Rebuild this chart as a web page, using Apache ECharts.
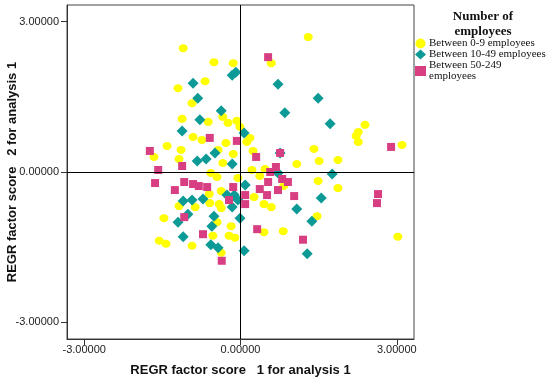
<!DOCTYPE html>
<html>
<head>
<meta charset="utf-8">
<script src="https://cdn.jsdelivr.net/npm/echarts@6/dist/echarts.min.js"></script>
<style>html,body{margin:0;padding:0;background:#fff}#c{width:550px;height:378px}</style>
</head>
<body>
<div id="c"></div>
<script>
// Series names
const seriesNames = ['Between 0-9 employees', 'Between 10-49 employees', 'Between 50-249 employees'];
const xAxisTitle = 'REGR factor score   1 for analysis 1';
const yAxisTitle = 'REGR factor score   2 for analysis 1';
const legendTitle = 'Number of\nemployees';
const tickValues = [-3, 0, 3];

// Between 0-9 employees
const micro = [
  [-1.10,2.47],[-0.51,2.19],[-0.14,2.17],[1.30,2.69],[0.59,2.17],[-0.68,1.81],[-1.20,1.67],
  [-0.93,1.37],[-0.34,1.10],[-0.07,1.02],[-0.01,0.90],[-1.12,1.06],[-0.62,1.00],[-0.24,0.98],
  [-0.91,0.70],[-0.74,0.64],[-0.28,0.58],[-1.41,0.52],[-1.14,0.44],[-1.66,0.30],[-1.18,0.26],
  [-0.14,0.36],[-0.34,0.18],[-0.43,0.44],[0.18,0.68],[0.12,0.60],[0.24,0.42],[0.22,0.04],
  [0.47,0.06],[-0.05,-0.12],[-0.57,-0.02],[-0.45,-0.10],[0.37,-0.08],[1.08,0.16],[1.41,0.46],
  [1.51,0.22],[1.87,0.24],[2.39,0.94],[2.26,0.80],[2.22,0.72],[2.26,0.60],[3.10,0.54],
  [1.49,-0.18],[1.87,-0.32],[0.83,-0.28],[0.26,-0.50],[0.45,-0.64],[0.59,-0.70],[1.47,-0.88],
  [0.45,-1.20],[0.82,-1.18],[3.02,-1.29],[-0.37,-0.38],[-0.60,-0.44],[-0.59,-0.62],[-0.41,-0.64],
  [-0.37,-0.72],[-1.18,-0.68],[-0.87,-0.70],[-1.47,-0.92],[-0.45,-1.00],[-0.18,-1.08],
  [-0.53,-1.27],[-0.22,-1.27],[-0.11,-1.31],[-1.56,-1.37],[-1.43,-1.43],[-0.93,-1.47],[-0.37,-1.61]
];
// Between 10-49 employees
const small = [
  [-0.16,1.93],[-0.09,1.99],[-0.91,1.77],[0.72,1.75],[-0.82,1.47],[1.49,1.47],[-0.37,1.22],
  [0.85,1.18],[-0.78,1.04],[1.72,0.96],[-1.12,0.82],[0.07,0.78],[-0.49,0.38],[-0.66,0.26],
  [-0.83,0.22],[-0.16,0.16],[0.76,0.38],[0.72,-0.02],[1.76,-0.04],[0.09,-0.26],[-0.26,-0.46],
  [-0.12,-0.46],[-0.05,-0.56],[-1.10,-0.58],[-0.93,-0.56],[-0.72,-0.54],[-0.16,-0.70],
  [-1.01,-0.84],[-1.20,-1.00],[-0.51,-0.88],[-0.55,-1.08],[-0.01,-0.92],[1.55,-0.52],
  [1.08,-0.74],[1.37,-0.98],[-1.10,-1.29],[-0.57,-1.45],[-0.43,-1.51],[0.07,-1.57],[1.28,-1.63]
];
// Between 50-249 employees
const medium = [
  [0.53,2.29],[-0.59,0.68],[-0.07,0.62],[-1.74,0.42],[-1.12,0.12],[-1.58,0.04],[0.30,0.30],
  [0.76,0.38],[2.89,0.50],[0.68,0.10],[0.57,0.00],[-1.64,-0.22],[-1.26,-0.36],[-1.08,-0.20],
  [-0.91,-0.24],[-0.80,-0.28],[-0.64,-0.30],[-0.14,-0.30],[-0.22,-0.56],[-1.08,-0.90],
  [-0.72,-1.24],[-0.36,-1.77],[0.37,-0.34],[0.09,-0.46],[0.09,-0.64],[0.32,-1.14],[0.80,-0.14],
  [0.91,-0.20],[0.53,-0.20],[0.72,-0.36],[0.51,-0.46],[1.03,-0.48],[2.64,-0.44],[2.62,-0.62],
  [1.20,-1.35]
];

const chart = echarts.init(document.getElementById('c'), null, {renderer: 'canvas'});
const fmt = v => v.toFixed(5);
const axisCommon = {
  type: 'value', min: -3.33, max: 3.33,
  splitLine: {show: false},
  axisLine: {show: true, onZero: false, lineStyle: {color: '#333', width: 1}},
  axisTick: {show: true, inside: false, length: 6, customValues: tickValues, lineStyle: {color: '#333'}},
  nameTextStyle: {fontFamily: 'Liberation Sans', fontWeight: 'bold', fontSize: 13, color: '#111'},
  nameLocation: 'middle',
  nameMoveOverlap: false
};
chart.setOption({
  animation: false,
  backgroundColor: '#fff',
  grid: {left: 67, top: 5, width: 347, height: 334, outerBoundsMode: 'none', containLabel: false,
         show: true, borderColor: '#444', borderWidth: 1, backgroundColor: '#fff'},
  xAxis: Object.assign({}, axisCommon, {
    name: xAxisTitle, nameGap: 25,
    axisLabel: {customValues: tickValues, formatter: fmt, margin: 5, fontFamily: 'Liberation Sans', fontSize: 11, color: '#222'}
  }),
  yAxis: Object.assign({}, axisCommon, {
    name: yAxisTitle, nameGap: 48,
    axisLabel: {customValues: tickValues, formatter: fmt, margin: 8, fontFamily: 'Liberation Sans', fontSize: 11, color: '#222'}
  }),
  graphic: [{
    type: 'text', x: 483, y: 9,
    style: {text: legendTitle, textAlign: 'center', font: 'bold 13px "Liberation Serif"', lineHeight: 15, fill: '#111'}
  }],
  legend: {
    orient: 'vertical', left: 415, top: 38, itemGap: 0, itemWidth: 11, itemHeight: 10, padding: 0,
    textStyle: {fontFamily: 'Liberation Serif', fontSize: 11, color: '#111', lineHeight: 11, padding: [0, 0, 0, -2]},
    formatter: n => n === seriesNames[2] ? 'Between 50-249\nemployees' : n,
    data: seriesNames
  },
  series: [
    {
      name: seriesNames[0], type: 'scatter', symbol: 'circle', symbolSize: [9, 8],
      itemStyle: {color: '#ffff00', opacity: 1}, data: micro,
      markLine: {
        silent: true, symbol: 'none', label: {show: false},
        lineStyle: {color: '#000', width: 1, type: 'solid'},
        data: [{xAxis: 0}, {yAxis: 0}]
      }
    },
    {name: seriesNames[1], type: 'scatter', symbol: 'diamond', symbolSize: 11, itemStyle: {color: '#0b9a95', opacity: 1}, data: small},
    {name: seriesNames[2], type: 'scatter', symbol: 'rect', symbolSize: 8, itemStyle: {color: '#d83f82', opacity: 1}, data: medium}
  ]
});
</script>
</body>
</html>
